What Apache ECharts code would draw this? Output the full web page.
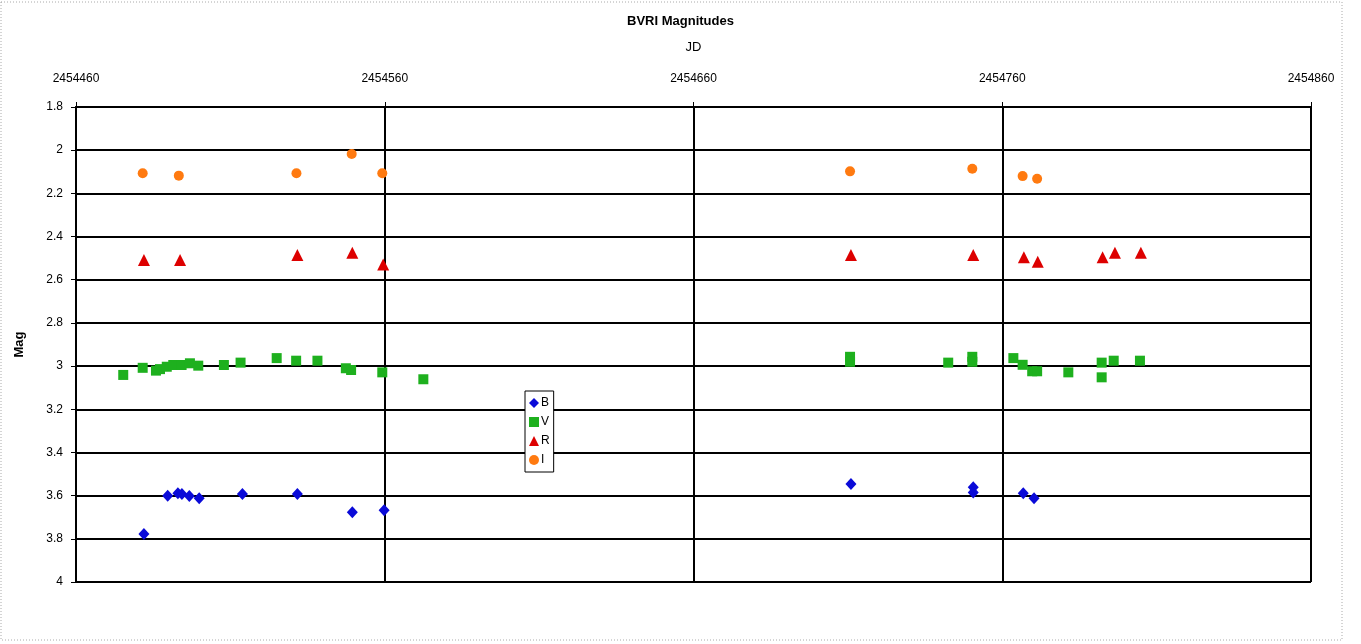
<!DOCTYPE html>
<html>
<head>
<meta charset="utf-8">
<script src="https://cdn.jsdelivr.net/npm/echarts@6/dist/echarts.min.js"></script>
<style>
html,body{margin:0;padding:0;background:#fff;}
#c{width:1361px;height:644px;}
</style>
</head>
<body>
<div id="c"></div>
<script>
const xTicks = [2454460, 2454560, 2454660, 2454760, 2454860];
const yTicks = [1.8, 2, 2.2, 2.4, 2.6, 2.8, 3, 3.2, 3.4, 3.6, 3.8, 4];

const seriesB = [
  [2454482.0, 3.778], [2454489.7, 3.600], [2454493.0, 3.589], [2454494.3, 3.592],
  [2454496.7, 3.602], [2454499.9, 3.612], [2454513.9, 3.592], [2454531.7, 3.592],
  [2454549.5, 3.677], [2454559.8, 3.668], [2454711.0, 3.546], [2454750.6, 3.561],
  [2454750.6, 3.586], [2454766.8, 3.589], [2454770.3, 3.612]
];
const seriesV = [
  [2454475.3, 3.041], [2454481.6, 3.008], [2454485.9, 3.021], [2454487.2, 3.014],
  [2454489.4, 3.003], [2454491.5, 2.995], [2454494.2, 2.995], [2454496.9, 2.987],
  [2454499.6, 2.998], [2454507.9, 2.995], [2454513.3, 2.984], [2454525.0, 2.963],
  [2454531.3, 2.975], [2454538.2, 2.975], [2454547.4, 3.010], [2454549.1, 3.018],
  [2454559.2, 3.029], [2454572.5, 3.061], [2454710.7, 2.957], [2454710.7, 2.980],
  [2454742.5, 2.984], [2454750.3, 2.957], [2454750.3, 2.980], [2454763.6, 2.963],
  [2454766.6, 2.994], [2454769.7, 3.024], [2454771.3, 3.024], [2454781.4, 3.029],
  [2454792.2, 2.984], [2454792.2, 3.052], [2454796.1, 2.975], [2454804.6, 2.975]
];
const seriesR = [
  [2454482.0, 2.509], [2454493.7, 2.509], [2454531.7, 2.485], [2454549.5, 2.475],
  [2454559.5, 2.529], [2454711.0, 2.485], [2454750.6, 2.485], [2454767.0, 2.496],
  [2454771.5, 2.517], [2454792.5, 2.496], [2454796.5, 2.475], [2454804.9, 2.475]
];
const seriesI = [
  [2454481.6, 2.107], [2454493.3, 2.118], [2454531.4, 2.107], [2454549.3, 2.018],
  [2454559.2, 2.107], [2454710.7, 2.098], [2454750.3, 2.086], [2454766.6, 2.120],
  [2454771.3, 2.132]
];

const chart = echarts.init(document.getElementById('c'), null, {renderer: 'canvas'});
const font = 'Liberation Sans, Arial, sans-serif';
const option = {
  backgroundColor: '#fff',
  animation: false,
  title: {
    text: 'BVRI Magnitudes',
    left: 'center', top: 10,
    textStyle: {fontFamily: font, fontSize: 13, fontWeight: 'bold', color: '#000'}
  },
  grid: {left: 76, right: 50, top: 107, bottom: 62, containLabel: false},
  xAxis: {
    type: 'value', position: 'top',
    min: xTicks[0], max: xTicks[xTicks.length - 1], interval: 100,
    name: 'JD', nameLocation: 'middle', nameGap: 53,
    nameTextStyle: {fontFamily: font, fontSize: 13, color: '#000'},
    axisLine: {show: true, onZero: false, lineStyle: {color: '#000', width: 2}},
    axisTick: {show: true, inside: false, length: 5, lineStyle: {color: '#000', width: 1}},
    axisLabel: {margin: 22, fontFamily: font, fontSize: 12, color: '#000',
      formatter: v => String(Math.round(v))},
    splitLine: {show: true, lineStyle: {color: '#000', width: 2}}
  },
  yAxis: {
    type: 'value', inverse: true,
    min: yTicks[0], max: yTicks[yTicks.length - 1], interval: 0.2,
    name: 'Mag', nameLocation: 'middle', nameGap: 50, nameRotate: 90,
    nameTextStyle: {fontFamily: font, fontSize: 13, fontWeight: 'bold', color: '#000'},
    axisLine: {show: true, onZero: false, lineStyle: {color: '#000', width: 2}},
    axisTick: {show: true, inside: false, length: 5, lineStyle: {color: '#000', width: 1}},
    axisLabel: {margin: 13, fontFamily: font, fontSize: 12, color: '#000',
      formatter: v => String(parseFloat(v.toFixed(1)))},
    splitLine: {show: true, lineStyle: {color: '#000', width: 2}}
  },
  legend: {
    orient: 'vertical',
    left: 525, top: 391,
    padding: [6, 4, 6, 4],
    itemGap: 7,
    itemWidth: 10, itemHeight: 10,
    backgroundColor: '#fff',
    borderColor: '#000', borderWidth: 1,
    textStyle: {fontFamily: font, fontSize: 12, color: '#000', padding: [0, 0, 0, -3]},
    data: ['B', 'V', 'R', 'I']
  },
  graphic: [{
    type: 'rect', silent: true, z: -1,
    shape: {x: 1, y: 2, width: 1341, height: 638},
    style: {fill: 'none', stroke: '#aaa', lineWidth: 1, lineDash: [1, 2]}
  }],
  series: [
    {name: 'B', type: 'scatter', data: seriesB, symbol: 'diamond', symbolSize: [11, 12],
      itemStyle: {color: '#0a0ad8', opacity: 1}},
    {name: 'V', type: 'scatter', data: seriesV, symbol: 'rect', symbolSize: 10,
      itemStyle: {color: '#1eb01e', opacity: 1}},
    {name: 'R', type: 'scatter', data: seriesR, symbol: 'triangle', symbolSize: [12, 12],
      itemStyle: {color: '#dd0000', opacity: 1}},
    {name: 'I', type: 'scatter', data: seriesI, symbol: 'circle', symbolSize: 10,
      itemStyle: {color: '#ff7a10', opacity: 1}}
  ]
};
chart.setOption(option);
</script>
</body>
</html>
